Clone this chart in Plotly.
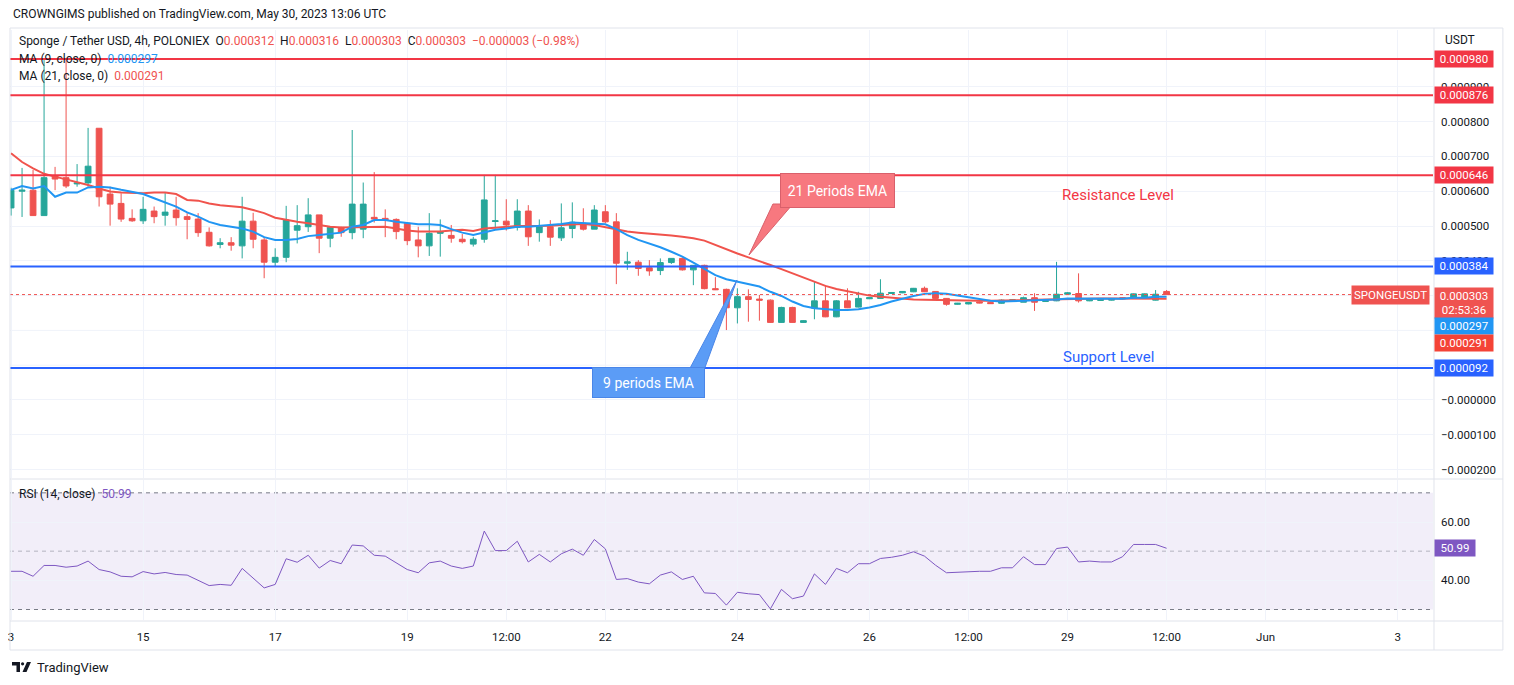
import plotly.graph_objects as go
import pandas as pd

# ---------------- data (prices in micro-USDT = 1e-6 USDT), 4h candles ----------------
start_time = "2023-05-13 00:00"

opens = [552, 600, 603, 530, 644, 639, 621, 624, 781, 592,
         565, 522, 515, 543, 531, 546, 527, 520, 482, 447,
         452, 443, 514, 460, 396, 410, 488, 498, 532, 465,
         496, 481, 491, 525, 522, 519, 508, 460, 443, 479,
         473, 462, 448, 462, 513, 514, 496, 543, 481, 498,
         466, 493, 508, 491, 541, 512, 393, 396, 380, 372,
         395, 407, 374, 387, 320, 318, 265, 297, 290, 287,
         223, 266, 223, 264, 285, 239, 285, 267, 291, 292,
         306, 308, 311, 321, 312, 292, 275, 276, 282, 280,
         278, 285, 281, 294, 283, 285, 304, 306, 285, 286,
         287, 294, 295, 295, 287, 312]
highs = [610, 667, 661, 977, 670, 977, 678, 782, 781, 613,
         594, 548, 584, 556, 596, 584, 537, 537, 496, 465,
         468, 584, 538, 469, 436, 558, 560, 580, 532, 498,
         498, 776, 625, 655, 548, 522, 510, 498, 537, 519,
         503, 477, 469, 647, 647, 577, 577, 560, 519, 517,
         565, 568, 551, 560, 560, 537, 426, 402, 402, 407,
         407, 409, 388, 389, 353, 320, 321, 318, 302, 289,
         268, 268, 229, 340, 330, 287, 321, 311, 295, 347,
         310, 313, 322, 326, 313, 293, 279, 281, 283, 281,
         289, 289, 297, 307, 288, 397, 310, 364, 290, 291,
         291, 295, 306, 306, 316, 316]
lows = [530, 526, 530, 530, 603, 609, 613, 613, 556, 501,
        512, 512, 506, 508, 501, 501, 462, 469, 441, 436,
        429, 407, 436, 350, 383, 396, 450, 483, 422, 439,
        469, 462, 465, 510, 468, 462, 445, 410, 414, 412,
        452, 450, 441, 452, 493, 487, 487, 443, 455, 443,
        457, 465, 487, 491, 508, 333, 374, 357, 357, 359,
        391, 372, 330, 318, 316, 201, 220, 225, 228, 222,
        222, 222, 222, 232, 238, 238, 264, 266, 290, 292,
        305, 307, 310, 310, 291, 271, 274, 275, 278, 276,
        277, 284, 281, 256, 282, 284, 303, 280, 284, 285,
        286, 290, 294, 294, 286, 303]
closes = [603, 603, 530, 639, 635, 615, 624, 672, 584, 563,
          520, 515, 548, 527, 540, 524, 519, 481, 443, 452,
          445, 514, 462, 396, 410, 517, 501, 532, 465, 496,
          481, 563, 563, 520, 517, 484, 458, 443, 479, 484,
          465, 455, 462, 575, 515, 503, 543, 469, 498, 468,
          495, 511, 491, 546, 512, 393, 397, 378, 371, 395,
          407, 374, 387, 320, 317, 265, 297, 289, 287, 223,
          266, 223, 228, 285, 239, 285, 265, 292, 294, 307,
          309, 312, 321, 311, 292, 275, 278, 280, 279, 277,
          287, 288, 294, 281, 286, 304, 308, 285, 289, 290,
          290, 291, 305, 305, 304, 303]

# moving-average lines (micro-USDT)
ma9 = [604, 615, 608, 615, 584, 596, 596, 611, 613, 611,
       604, 599, 592, 580, 567, 556, 539, 527, 512, 503,
       498, 493, 484, 468, 460, 460, 463, 471, 474, 477,
       481, 498, 503, 517, 517, 512, 508, 505, 505, 503,
       491, 481, 474, 481, 489, 493, 498, 498, 500, 503,
       506, 510, 508, 508, 505, 491, 474, 460, 450, 439,
       426, 412, 395, 378, 359, 347, 340, 333, 326, 311,
       299, 283, 270, 264, 261, 259, 259, 261, 266, 273,
       283, 292, 299, 305, 307, 305, 300, 295, 290, 285,
       283, 283, 285, 287, 287, 289, 292, 292, 291, 291,
       291, 291, 294, 294, 297, 297]
ma21 = [709, 684, 666, 650, 642, 634, 627, 618, 608, 599,
        596, 594, 594, 596, 596, 592, 575, 573, 565, 560,
        556, 554, 546, 537, 524, 517, 512, 508, 503, 498,
        496, 496, 498, 498, 498, 493, 487, 484, 484, 484,
        487, 489, 486, 493, 495, 498, 500, 500, 500, 501,
        503, 505, 506, 503, 496, 489, 484, 481, 479, 476,
        473, 469, 465, 458, 445, 433, 421, 410, 400, 388,
        376, 364, 353, 340, 328, 319, 313, 307, 300, 297,
        294, 292, 289, 288, 287, 286, 285, 285, 285, 285,
        285, 286, 287, 288, 289, 290, 291, 292, 292, 292,
        292, 292, 292, 291, 291, 291]

rsi = [43.1, 43.1, 41.4, 45.1, 45.1, 44.5, 44.9, 46.6, 43.7, 42.9,
       41.4, 41.2, 43.0, 42.2, 42.7, 42.0, 41.8, 40.1, 38.2, 38.6,
       38.3, 44.1, 40.9, 37.4, 38.6, 47.4, 46.2, 48.6, 44.2, 46.8,
       45.7, 52.1, 51.8, 48.6, 48.3, 45.9, 43.7, 42.6, 46.0, 46.6,
       44.9, 44.1, 44.9, 56.9, 50.2, 50.2, 53.4, 46.3, 48.9, 46.3,
       49.1, 50.7, 48.6, 54.0, 50.8, 40.3, 40.6, 39.4, 38.8, 41.8,
       42.9, 40.3, 41.4, 35.7, 35.5, 31.5, 35.9, 35.4, 35.1, 30.2,
       36.9, 33.7, 34.6, 42.2, 38.6, 44.1, 42.6, 45.7, 45.7, 47.5,
       47.9, 48.6, 49.8, 48.3, 45.2, 42.6, 42.8, 43.1, 43.1, 43.1,
       44.3, 44.3, 48.1, 45.4, 45.4, 50.9, 51.4, 46.3, 46.6, 46.3,
       46.3, 48.1, 52.3, 52.3, 52.3, 50.99]

resistance_levels = [980, 876, 646]
resistance_labels = ["0.000980", "0.000876", "0.000646"]
support_levels = [384, 92]
support_labels = ["0.000384", "0.000092"]
rsi_levels = [70, 50, 30]

# tick labels that are not covered by price tags in the reference
y_tick_vals = [-200, -100, 0, 400, 500, 600, 700, 800, 900]
y_tick_text = ["\u22120.000200", "\u22120.000100", "\u22120.000000", "0.000400",
               "0.000500", "0.000600", "0.000700", "0.000800", "0.000900"]
y_grid_vals = [100, 200, 300]
rsi_tick_vals = [40, 60]
rsi_tick_text = ["40.00", "60.00"]
x_tick_vals = ["2023-05-13 00:00", "2023-05-15", "2023-05-17", "2023-05-19", "2023-05-20 12:00",
               "2023-05-22", "2023-05-24", "2023-05-26", "2023-05-27 12:00", "2023-05-29",
               "2023-05-30 12:00", "2023-06-01", "2023-06-03"]
x_tick_text = ["3", "15", "17", "19", "12:00", "22", "24", "26", "12:00", "29", "12:00", "Jun", "3"]

times = pd.date_range(start_time, periods=len(closes), freq="4h")

# ---------------- styling ----------------
FONT = "Roboto, 'Noto Sans', Arial, sans-serif"
TXT = "#131722"
UP = "#26a69a"
DOWN = "#ef5350"
RED_LVL = "#f23645"
BLUE_LVL = "#2962ff"
MA9_C = "#2196f3"
MA21_C = "#f0534c"
RSI_C = "#7e57c2"
GRID = "#f0f3fa"
BORDER = "#e0e3eb"

# the page has an 8px body margin: the figure starts at page (8, 8)
PAGE_OFF = 8
W, H = 1514 - PAGE_OFF, 685 - PAGE_OFF
PLOT_L, PLOT_R, PLOT_T, PLOT_B = 8, 1433, 30, 620          # plot area in page pixels
ML, MR = PLOT_L - PAGE_OFF, (1514 - PAGE_OFF) - (PLOT_R - PAGE_OFF)
MT, MB = PLOT_T - PAGE_OFF, (685 - PAGE_OFF) - (PLOT_B - PAGE_OFF)
PW, PH = PLOT_R - PLOT_L, PLOT_B - PLOT_T


def px(x):
    return (x - PLOT_L) / PW


def py(y):
    return (PLOT_B - y) / PH


fig = go.Figure()
fig.add_trace(go.Candlestick(
    x=times, open=opens, high=highs, low=lows, close=closes,
    increasing=dict(line=dict(color=UP, width=1), fillcolor=UP),
    decreasing=dict(line=dict(color=DOWN, width=1), fillcolor=DOWN),
    whiskerwidth=0, xaxis="x", yaxis="y", hoverinfo="skip", showlegend=False))
fig.add_trace(go.Scatter(x=times, y=ma21, mode="lines", line=dict(color=MA21_C, width=2),
                         xaxis="x", yaxis="y", hoverinfo="skip"))
fig.add_trace(go.Scatter(x=times, y=ma9, mode="lines", line=dict(color=MA9_C, width=2),
                         xaxis="x", yaxis="y", hoverinfo="skip"))
fig.add_trace(go.Scatter(x=times, y=rsi, mode="lines", line=dict(color=RSI_C, width=1),
                         xaxis="x", yaxis="y2", hoverinfo="skip"))

shapes = []
# grid lines where tick labels are hidden behind tags
for gv in y_grid_vals:
    shapes.append(dict(type="line", xref="paper", yref="y", x0=0, x1=1, y0=gv, y1=gv,
                       line=dict(color=GRID, width=1), layer="below"))
# RSI band and levels
shapes.append(dict(type="rect", xref="paper", yref="y2", x0=0, x1=1, y0=rsi_levels[2], y1=rsi_levels[0],
                   fillcolor="rgba(126,87,194,0.10)", line=dict(width=0), layer="below"))
for lv in rsi_levels:
    shapes.append(dict(type="line", xref="paper", yref="y2", x0=0, x1=1, y0=lv, y1=lv,
                       line=dict(color="#787b86" if lv != 50 else "rgba(120,123,134,0.5)",
                                 width=1, dash="4px,4px"), layer="below"))
# horizontal levels
for lv in resistance_levels:
    shapes.append(dict(type="line", xref="paper", yref="y", x0=0, x1=1, y0=lv, y1=lv,
                       line=dict(color=RED_LVL, width=2), layer="above"))
for lv in support_levels:
    shapes.append(dict(type="line", xref="paper", yref="y", x0=0, x1=1, y0=lv, y1=lv,
                       line=dict(color=BLUE_LVL, width=2), layer="above"))
# last price dotted line
shapes.append(dict(type="line", xref="paper", yref="y", x0=0, x1=px(1351), y0=closes[-1], y1=closes[-1],
                   line=dict(color=DOWN, width=1, dash="dot"), layer="above"))
# callout pointers
shapes.append(dict(type="path", xref="paper", yref="paper",
                   path=f"M {px(772)},{py(204)} L {px(792)},{py(204)} L {px(748)},{py(255)} Z",
                   fillcolor="#f7787f", line=dict(color="#d9606b", width=1), layer="above"))
shapes.append(dict(type="path", xref="paper", yref="paper",
                   path=f"M {px(688)},{py(370)} L {px(703)},{py(370)} L {px(736)},{py(280)} Z",
                   fillcolor="#5b9cf6", line=dict(color="#4a86e8", width=1), layer="above"))
# frame / separators
for (x0, y0, x1, y1) in [(8, 28, 1503, 28), (8, 650, 1503, 650), (8, 28, 8, 650), (1503, 28, 1503, 650),
                         (1434, 28, 1434, 650), (8, 479, 1503, 479), (8, 621, 1503, 621)]:
    shapes.append(dict(type="line", xref="paper", yref="paper", x0=px(x0), x1=px(x1), y0=py(y0), y1=py(y1),
                       line=dict(color=BORDER, width=1), layer="above"))
# TradingView logo
shapes.append(dict(type="path", xref="paper", yref="paper",
                   path=f"M {px(10)},{py(662)} L {px(18)},{py(662)} L {px(18)},{py(672)} L {px(14.5)},{py(672)} "
                        f"L {px(14.5)},{py(665.5)} L {px(10)},{py(665.5)} Z",
                   fillcolor=TXT, line=dict(width=0)))
shapes.append(dict(type="circle", xref="paper", yref="paper", x0=px(19), x1=px(22.2), y0=py(662.2), y1=py(665.4),
                   fillcolor=TXT, line=dict(width=0)))
shapes.append(dict(type="path", xref="paper", yref="paper",
                   path=f"M {px(25)},{py(662)} L {px(29)},{py(662)} L {px(24.5)},{py(672)} L {px(20.5)},{py(672)} Z",
                   fillcolor=TXT, line=dict(width=0)))

ann = []


def text(x, y, t, size=12, color=TXT, anchor="left", **kw):
    d = dict(x=px(x), y=py(y), xref="paper", yref="paper", text=t, showarrow=False,
             xanchor=anchor, yanchor="middle", font=dict(family=FONT, size=size, color=color))
    d.update(kw)
    ann.append(d)


text(9, 14, "CROWNGIMS published on TradingView.com, May 30, 2023 13:06 UTC", 12)
R = "#ef5350"
text(15, 41, "Sponge / Tether USD, 4h, POLONIEX&nbsp;&nbsp;"
             f"O<span style='color:{R}'>0.000312</span>&nbsp;&nbsp;H<span style='color:{R}'>0.000316</span>&nbsp;&nbsp;"
             f"L<span style='color:{R}'>0.000303</span>&nbsp;&nbsp;C<span style='color:{R}'>0.000303</span>&nbsp;&nbsp;"
             f"<span style='color:{R}'>\u22120.000003 (\u22120.98%)</span>", 12)
text(15, 59, f"MA (9, close, 0)&nbsp;&nbsp;<span style='color:{MA9_C}'>0.000297</span>", 12)
text(15, 76, f"MA (21, close, 0)&nbsp;&nbsp;<span style='color:{R}'>0.000291</span>", 12)
text(15, 494, f"RSI (14, close)&nbsp;&nbsp;<span style='color:{RSI_C}'>50.99</span>", 12)
text(1443, 40, "USDT", 12)
text(1118, 195, "Resistance Level", 15, RED_LVL, "center")
text(1108, 357, "Support Level", 15, BLUE_LVL, "center")
text(836.5, 190, "21 Periods EMA", 14, "white", "center",
     bgcolor="#f7787f", bordercolor="#d9606b", borderwidth=1, borderpad=3, width=107, height=27)
text(647.5, 382.5, "9 periods EMA", 14, "white", "center",
     bgcolor="#5b9cf6", bordercolor="#4a86e8", borderwidth=1, borderpad=3, width=105, height=23)
text(33, 667, "TradingView", 13)


def tag(yv, t, color, yref="y", h=14, w=56):
    ann.append(dict(x=1, xref="paper", xanchor="left", xshift=1, y=yv, yref=yref, yanchor="middle",
                    text=t, showarrow=False, bgcolor=color, borderpad=1, width=w, height=h,
                    font=dict(family=FONT, size=11.5, color="white")))


for lv, lab in zip(resistance_levels, resistance_labels):
    tag(lv, lab, RED_LVL)
for lv, lab in zip(support_levels, support_labels):
    tag(lv, lab, BLUE_LVL)
tag(py(302.5), "0.000303<br>02:53:36", DOWN, yref="paper", h=28)
tag(py(326), "0.000297", MA9_C, yref="paper")
tag(py(343), "0.000291", "#f44336", yref="paper")
tag(rsi[-1], "50.99", RSI_C, yref="y2", w=38)
ann.append(dict(x=px(1430), xref="paper", xanchor="right", y=closes[-1], yref="y", yanchor="middle",
                text="SPONGEUSDT", showarrow=False, bgcolor=DOWN, borderpad=2,
                font=dict(family=FONT, size=11.5, color="white")))

axis_font = dict(family=FONT, size=11.5, color=TXT)
fig.update_layout(
    width=W, height=H, margin=dict(l=ML, r=MR, t=MT, b=MB, pad=0),
    paper_bgcolor="white", plot_bgcolor="white", showlegend=False,
    boxgap=0.25,
    xaxis=dict(type="date", range=["2023-05-12 23:37", "2023-06-03 12:50"], anchor="y2",
               tickvals=x_tick_vals, ticktext=x_tick_text, showgrid=True, gridcolor=GRID, gridwidth=1,
               zeroline=False, showline=False, ticks="", tickfont=axis_font, ticklabeloverflow="allow",
               rangeslider=dict(visible=False), ticklabelstandoff=8, fixedrange=True),
    yaxis=dict(domain=[(PLOT_B - 478) / PH, 1], range=[-224.2, 1063.4], side="right", anchor="x",
               tickvals=y_tick_vals, ticktext=y_tick_text, showgrid=True, gridcolor=GRID,
               zeroline=False, showline=False, ticks="", tickfont=axis_font, ticklabelstandoff=7),
    yaxis2=dict(domain=[0, (PLOT_B - 480) / PH], range=[26.4, 74.4], side="right", anchor="x",
                tickvals=rsi_tick_vals, ticktext=rsi_tick_text, showgrid=True, gridcolor=GRID,
                zeroline=False, showline=False, ticks="", tickfont=axis_font, ticklabelstandoff=7),
    shapes=shapes, annotations=ann,
)

fig.write_html("out.html")
